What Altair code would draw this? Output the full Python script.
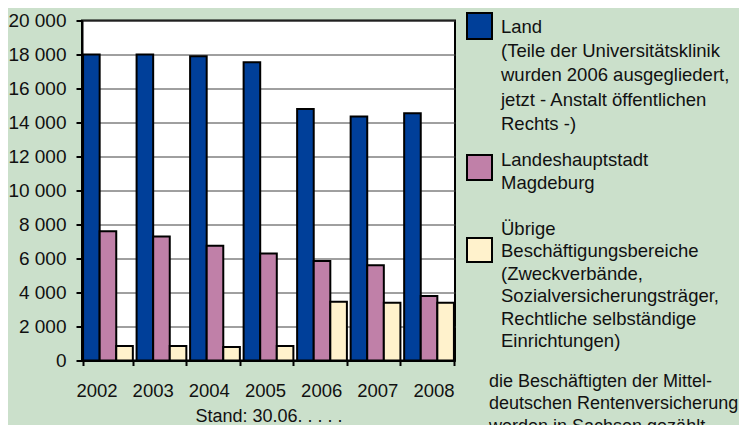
import altair as alt
import pandas as pd

FONT = "Liberation Sans"

years = ["2002", "2003", "2004", "2005", "2006", "2007", "2008"]
land = [18000, 18000, 17900, 17550, 14800, 14350, 14550]
magdeburg = [7600, 7300, 6750, 6300, 5850, 5600, 3800]
uebrige = [850, 850, 800, 850, 3450, 3400, 3400]
series = ["Land", "Landeshauptstadt Magdeburg", "Übrige Beschäftigungsbereiche"]
colors = ["#003f99", "#c080a8", "#fff2cc"]
y_ticks = [0, 2000, 4000, 6000, 8000, 10000, 12000, 14000, 16000, 18000, 20000]
x_title = "Stand: 30.06. . . . ."

legend_land = ["Land", "(Teile der Universitätsklinik", "wurden 2006 ausgegliedert,",
               " jetzt - Anstalt öffentlichen", "Rechts -)"]
legend_md = ["Landeshauptstadt", "Magdeburg"]
legend_ub = ["Übrige", "Beschäftigungsbereiche", "(Zweckverbände,",
             "Sozialversicherungsträger,", "Rechtliche selbständige", "Einrichtungen)"]
footnote = ["die Beschäftigten der  Mittel-", "deutschen Rentenversicherung",
            " werden in Sachsen gezählt"]

rows = []
for i, yr in enumerate(years):
    for s, vals in zip(series, [land, magdeburg, uebrige]):
        rows.append({"year": yr, "series": s, "value": vals[i]})
df = pd.DataFrame(rows)

bars = alt.Chart(df).mark_bar(stroke="black", strokeWidth=2).encode(
    x=alt.X("year:N", sort=years,
            scale=alt.Scale(paddingInner=0.07, paddingOuter=0.02),
            axis=alt.Axis(labels=False, tickBand="extent", tickSize=5, tickWidth=2,
                          tickColor="black", domainColor="black", domainWidth=2,
                          title=x_title, titleY=61, titleBaseline="alphabetic",
                          titleFont=FONT, titleFontSize=18, titleFontWeight="normal",
                          titleColor="#111")),
    xOffset=alt.XOffset("series:N", sort=series,
                        scale=alt.Scale(paddingInner=0, paddingOuter=0)),
    y=alt.Y("value:Q", scale=alt.Scale(domain=[0, 20000], nice=False),
            axis=alt.Axis(values=y_ticks,
                          labelExpr="replace(format(datum.value, ','), ',', ' ')",
                          title=None, grid=True, gridColor="#404040", gridWidth=1,
                          domainColor="black", domainWidth=2, tickColor="black",
                          tickWidth=2, tickSize=6, labelPadding=10,
                          labelFont=FONT, labelFontSize=19, labelColor="#111")),
    color=alt.Color("series:N", sort=series,
                    scale=alt.Scale(domain=series, range=colors), legend=None),
)

year_df = pd.DataFrame({"year": years})
year_text = alt.Chart(year_df).mark_text(
    font=FONT, fontSize=18.5, baseline="alphabetic", color="#111"
).encode(
    x=alt.X("year:N", sort=years,
            scale=alt.Scale(type="point", range=[15, 352], padding=0), axis=None),
    y=alt.value(376.5),
    text="year:N",
)

one = pd.DataFrame({"a": [0]})


def swatch(color, y0, y1):
    return alt.Chart(one).mark_rect(fill=color, stroke="black", strokeWidth=2).encode(
        x=alt.value(385), x2=alt.value(410), y=alt.value(y0), y2=alt.value(y1))


def block(lines, x, y, lh, size=18.5):
    return alt.Chart(one).mark_text(
        font=FONT, fontSize=size, align="left", baseline="alphabetic",
        color="#111", lineHeight=lh, text=lines
    ).encode(x=alt.value(x), y=alt.value(y))


chart = alt.layer(
    bars, year_text,
    swatch(colors[0], -7.5, 18.5),
    swatch(colors[1], 134.5, 159.5),
    swatch(colors[2], 217.5, 241.5),
    block(legend_land, 419, 12.5, 24.2),
    block(legend_md, 419, 145.5, 23),
    block(legend_ub, 419, 214, 22.5),
    block(footnote, 407, 366, 22.5, 18),
).resolve_scale(x="independent").properties(
    width=373, height=340,
    autosize=alt.AutoSizeParams(type="none"),
    padding={"left": 74, "top": 12.5, "right": 284, "bottom": 65},
    background="#cbe0cb",
).configure_view(fill="white", stroke="black", strokeWidth=2)

chart.save("out.html", embed_options={"renderer": "svg", "actions": False})
